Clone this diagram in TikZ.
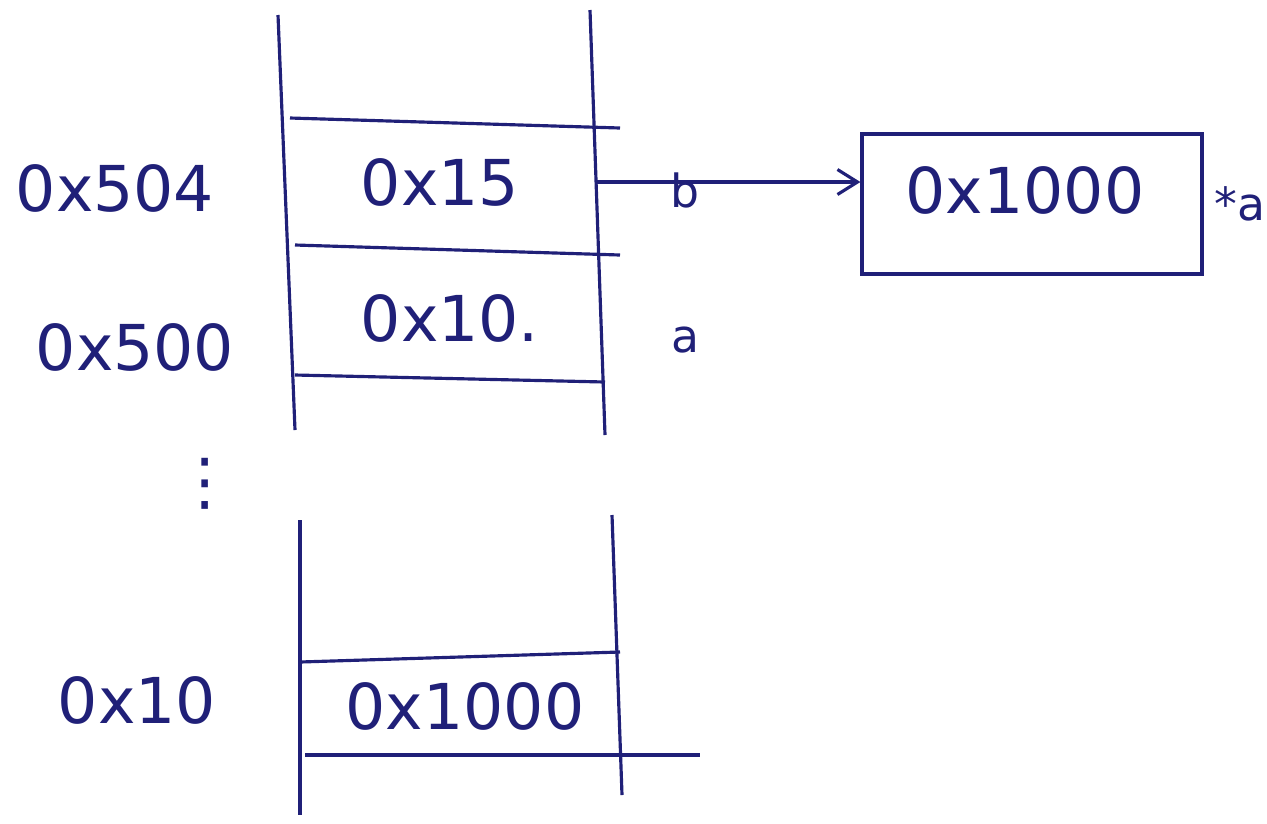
\documentclass[tikz,border=0pt]{standalone}
\usepackage{fontspec}
\setmainfont{DejaVu Sans}
\usetikzlibrary{arrows.meta,positioning}
\definecolor{ink}{RGB}{32,32,120}

\begin{document}
\begin{tikzpicture}[x=0.02cm,y=-0.02cm,>={Straight Barb[length=4mm,width=5mm]},line width=1.8pt,
  every node/.style={text=ink,font=\fontsize{36}{42}\selectfont},
  wall/.style={draw=ink,line width=1.8pt},
  cell/.style={minimum width=6.2cm,minimum height=2.4cm,inner sep=0pt},
  addr/.style={anchor=center},
  var/.style={font=\fontsize{26}{30}\selectfont}]
\useasboundingbox (0,0) rectangle (1267,823);
% upper stack frame
\draw[wall] (278,15) -- (295,430); \draw[wall] (590,10) -- (605,435);
\draw[wall] (290,118) -- (620,128); \draw[wall] (295,245) -- (620,255); \draw[wall] (295,375) -- (605,382);
\node[cell] (c504) at (440,182) {0x15};
\node[cell] (c500) at (450,318) {0x10.};
\node[addr] (a504) at (115,188) {0x504};
\node[addr] (a500) at (135,347) {0x500};
\node[var] (vara) at (685,340) {a};
\node[var] (varb) at (685,190) {b};
% heap cell
\node[draw=ink,line width=1.8pt,minimum width=6.8cm,minimum height=2.8cm] (heap) at (1032,204) {};
\node (v1000) at (1025,190) {0x1000};
\node[var,right=2pt of heap] (stara) {*a};
\draw[ink,->] (c504.east) -- (c504.east -| heap.west);
% gap
\node (gap) at (205,484) {⋮};
% lower stack frame
\draw[wall] (300,520) -- (300,815); \draw[wall] (612,515) -- (622,795);
\draw[wall] (300,662) -- (620,652); \draw[wall] (305,755) -- (700,755);
\node[cell,minimum height=1.9cm] (c10) at (465,706) {0x1000};
\node[addr] (a10) at (137,700) {0x10};
\end{tikzpicture}
\end{document}
